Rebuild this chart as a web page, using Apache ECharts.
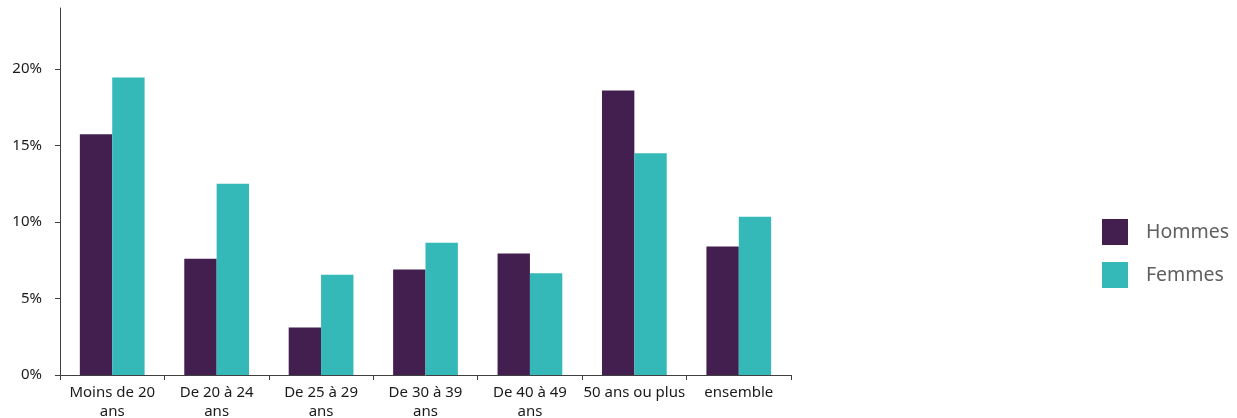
<!DOCTYPE html>
<html>
<head>
<meta charset="utf-8">
<script src="https://cdn.jsdelivr.net/npm/echarts@6/dist/echarts.min.js"></script>
<style>
html,body{margin:0;padding:0;background:#fff;}
#chart{width:1237px;height:418px;}
</style>
</head>
<body>
<div id="chart"></div>
<script>
const categories = ["Moins de 20\nans", "De 20 à 24\nans", "De 25 à 29\nans", "De 30 à 39\nans", "De 40 à 49\nans", "50 ans ou plus", "ensemble"];
const hommes = [15.75, 7.6, 3.1, 6.9, 7.95, 18.6, 8.4];
const femmes = [19.45, 12.5, 6.55, 8.65, 6.65, 14.5, 10.35];
const yTicks = [0, 5, 10, 15, 20];

const chart = echarts.init(document.getElementById('chart'));
const font = '"Noto Sans", sans-serif';
chart.setOption({
  animation: false,
  textStyle: { fontFamily: font },
  grid: { left: 60, right: 446, top: 8, bottom: 43, containLabel: false, outerBoundsMode: 'none' },
  legend: {
    orient: 'vertical',
    left: 1102,
    top: 219,
    padding: 0,
    itemWidth: 26,
    itemHeight: 26,
    itemGap: 17,
    icon: 'rect',
    textStyle: { fontFamily: font, fontSize: 19.5, color: '#5f5f5f', padding: [0, 0, 0, 13] },
    data: ['Hommes', 'Femmes']
  },
  xAxis: {
    type: 'category',
    data: categories,
    axisLine: { lineStyle: { color: '#404040', width: 1 } },
    axisTick: { show: true, length: 5, lineStyle: { color: '#404040' } },
    axisLabel: { fontFamily: font, fontSize: 15, color: '#1a1a1a', margin: 8, lineHeight: 19, interval: 0 }
  },
  yAxis: {
    type: 'value',
    min: 0,
    max: 24,
    interval: 5,
    splitLine: { show: false },
    axisLine: { show: true, lineStyle: { color: '#404040', width: 1 } },
    axisTick: { show: true, length: 5, customValues: yTicks, lineStyle: { color: '#404040' } },
    axisLabel: { fontFamily: font, fontSize: 15, color: '#1a1a1a', margin: 18, customValues: yTicks, formatter: v => v + '%' }
  },
  series: [
    { name: 'Hommes', type: 'bar', data: hommes, barGap: '0%', barCategoryGap: '38%', itemStyle: { color: '#431F50' } },
    { name: 'Femmes', type: 'bar', data: femmes, barGap: '0%', barCategoryGap: '38%', itemStyle: { color: '#34B8B8' } }
  ]
});
</script>
</body>
</html>
